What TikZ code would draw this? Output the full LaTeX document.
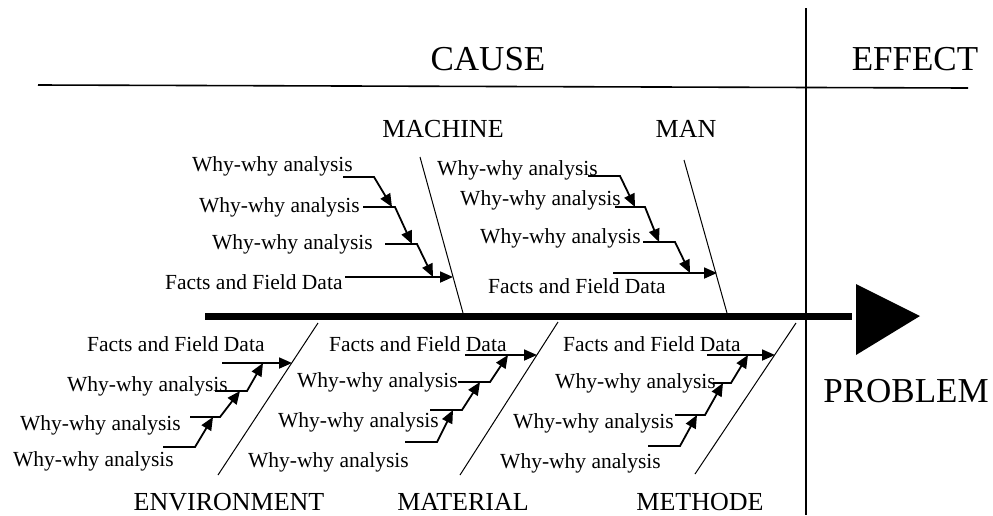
\documentclass[tikz,border=0pt]{standalone}
\usepackage{fontspec}
\setmainfont{Liberation Serif}
\usetikzlibrary{arrows.meta}
\tikzset{
    base/.style={inner sep=0pt, font=\fontsize{21.5}{24}\selectfont},
    why/.style={base, anchor=base west},
    cat/.style={inner sep=0pt, anchor=base, font=\fontsize{26}{30}\selectfont},
    title/.style={inner sep=0pt, anchor=base, font=\fontsize{35}{40}\selectfont},
    frame/.style={line width=1.6pt},
    bone/.style={line width=1pt},
    spine/.style={line width=7pt},
    leader/.style={line width=1.8pt, -{Triangle[length=13pt, width=11pt]}}
}

\begin{document}
\begin{tikzpicture}[x=1pt, y=-1pt]
        \useasboundingbox (0,0) rectangle (993,515);

        % Frame
        \coordinate (topl) at (38,85);
        \coordinate (topr) at (968,88);
        \coordinate (midt) at (806,8);
        \coordinate (midb) at (806,515);
        \draw [frame] (topl) -- (topr);
        \draw [frame] (midt) -- (midb);
        \node (cause) [title] at (488,70) {CAUSE};
        \node (effect) [title] at (915,70) {EFFECT};

        % Spine and head
        \coordinate (tail) at (205,316);
        \coordinate (nose) at (852,316);
        \draw [spine] (tail) -- (nose);
        \coordinate (h1) at (856,284);
        \coordinate (h2) at (920,316);
        \coordinate (h3) at (856,355);
        \fill (h1) -- (h2) -- (h3) -- cycle;
        \node (problem) [title] at (906,402) {PROBLEM};

        % Bones
        \coordinate (macht) at (420,157);  \coordinate (machb) at (463,313);
        \coordinate (mant) at (684,160);   \coordinate (manb) at (727,313);
        \coordinate (envt) at (318,323);   \coordinate (envb) at (218,475);
        \coordinate (matt) at (558,322);   \coordinate (matb) at (460,475);
        \coordinate (metht) at (796,323);  \coordinate (methb) at (695,474);
        \foreach \b in {mach, man, env, mat, meth}
            \draw [bone] (\b t) -- (\b b);

        \node (machine) [cat] at (443,137) {MACHINE};
        \node (man) [cat] at (686,137) {MAN};
        \node (environment) [cat] at (229,510) {ENVIRONMENT};
        \node (material) [cat] at (463,510) {MATERIAL};
        \node (methode) [cat] at (700,510) {METHODE};

        % Texts
        \node (mc1) [why] at (192,171) {Why-why analysis};
        \node (mc2) [why] at (199,212) {Why-why analysis};
        \node (mc3) [why] at (212,249) {Why-why analysis};
        \node (mc4) [why] at (165,289) {Facts and Field Data};
        \node (mn1) [why] at (437,175) {Why-why analysis};
        \node (mn2) [why] at (460,205) {Why-why analysis};
        \node (mn3) [why] at (480,243) {Why-why analysis};
        \node (mn4) [why] at (488,293) {Facts and Field Data};
        \node (ev1) [why] at (87,351) {Facts and Field Data};
        \node (ev2) [why] at (67,391) {Why-why analysis};
        \node (ev3) [why] at (20,430) {Why-why analysis};
        \node (ev4) [why] at (13,466) {Why-why analysis};
        \node (mt1) [why] at (329,351) {Facts and Field Data};
        \node (mt2) [why] at (297,387) {Why-why analysis};
        \node (mt3) [why] at (278,427) {Why-why analysis};
        \node (mt4) [why] at (248,467) {Why-why analysis};
        \node (md1) [why] at (563,351) {Facts and Field Data};
        \node (md2) [why] at (555,388) {Why-why analysis};
        \node (md3) [why] at (513,428) {Why-why analysis};
        \node (md4) [why] at (500,468) {Why-why analysis};

        % Why-why leaders
        \foreach \n/\xa/\xb/\y/\xc/\yc in {
            mc1/343/374/177/392/207, mc2/363/395/207/412/244, mc3/385/417/244/433/277,
            mn1/588/620/176/635/207, mn2/615/645/207/659/242, mn3/643/675/242/690/273,
            ev2/215/247/391/263/363, ev3/190/220/417/240/391, ev4/163/195/447/213/417,
            mt2/458/490/382/508/355, mt3/430/462/410/480/382, mt4/405/437/442/453/410,
            md2/713/731/383/748/355, md3/675/705/415/723/383, md4/648/680/446/697/415} {
            \coordinate (\n-a) at (\xa,\y);
            \coordinate (\n-b) at (\xb,\y);
            \coordinate (\n-c) at (\xc,\yc);
            \draw [leader] (\n-a) -- (\n-b) -- (\n-c);
        }

        % Facts leaders
        \foreach \n/\xa/\xc/\y in {mc4/345/453/277, mn4/613/717/273,
            ev1/222/292/363, mt1/465/537/355, md1/707/775/355} {
            \coordinate (\n-a) at (\xa,\y);
            \coordinate (\n-c) at (\xc,\y);
            \draw [leader] (\n-a) -- (\n-c);
        }
\end{tikzpicture}
\end{document}
